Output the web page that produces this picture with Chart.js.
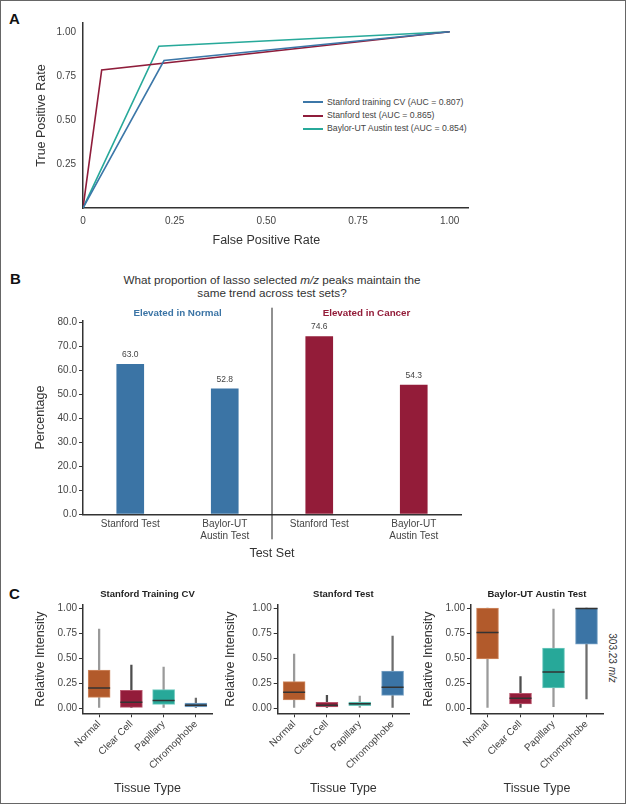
<!DOCTYPE html>
<html>
<head>
<meta charset="utf-8">
<script src="https://cdn.jsdelivr.net/npm/chart.js@4.4.1/dist/chart.umd.min.js"></script>
<style>
  body { margin: 0; background: #fff; }
  #fig { position: relative; width: 627px; height: 806px; overflow: hidden; background: #fff;
         font-family: "Liberation Sans", Arial, sans-serif; color: #333; }
  #frame { position: absolute; left: 0; top: 0; width: 624px; height: 802px; border: 1.5px solid #666; }
  canvas { position: absolute; }
  .letter { position: absolute; font-weight: bold; font-size: 15px; line-height: 1; color: #111; }
  #titleB { position: absolute; left: 62px; top: 273px; width: 420px; text-align: center;
            font-size: 11.7px; line-height: 13.3px; color: #333; }
  #legendA { position: absolute; left: 303px; top: 95.5px; font-size: 8.7px; color: #444; }
  #legendA div { height: 13.3px; line-height: 13.3px; white-space: nowrap; }
  #legendA span.sw { display: inline-block; width: 20px; height: 2px; vertical-align: middle; margin-right: 4px; }
  #mz { position: absolute; left: 611.5px; top: 658px; font-size: 10px; color: #333; white-space: nowrap;
        transform: translate(-50%, -50%) rotate(90deg); }
</style>
</head>
<body>
<div id="fig">
  <div id="frame"></div>
  <div class="letter" style="left:9px;top:10.5px">A</div>
  <div class="letter" style="left:10px;top:271px">B</div>
  <div class="letter" style="left:9px;top:586px">C</div>
  <div id="titleB">What proportion of lasso selected <i>m/z</i> peaks maintain the<br>same trend across test sets?</div>
  <div id="legendA"></div>
  <div id="mz">303.23 <i>m/z</i></div>
</div>
<script>
// ---- Panel A: ROC curves ----
const rocNames = ['Stanford training CV (AUC = 0.807)', 'Stanford test (AUC = 0.865)', 'Baylor-UT Austin test (AUC = 0.854)'];
const rocColors = ['#3c77a8', '#8f1d3b', '#27a99a'];
const trainFpr = [0, 0.221, 1];
const trainTpr = [0, 0.837, 1];
const stanFpr = [0, 0.051, 1];
const stanTpr = [0, 0.784, 1];
const baylorFpr = [0, 0.207, 1];
const baylorTpr = [0, 0.918, 1];
const rateTicksX = [0, 0.25, 0.5, 0.75, 1];
const rateTicksY = [0.25, 0.5, 0.75, 1];

// ---- Panel B: proportion of peaks keeping trend ----
const testSets = [['Stanford Test'], ['Baylor-UT', 'Austin Test'], ['Stanford Test'], ['Baylor-UT', 'Austin Test']];
const keptPct = [63.0, 52.8, 74.6, 54.3];
const barColors = ['#3b74a5', '#3b74a5', '#931c39', '#931c39'];
const groupNames = ['Elevated in Normal', 'Elevated in Cancer'];
const groupColors = ['#3b74a5', '#931c39'];
const pctTicks = [0, 10, 20, 30, 40, 50, 60, 70, 80];

// ---- Panel C: box plots of 303.23 m/z ----
const tissueTypes = ['Normal', 'Clear Cell', 'Papillary', 'Chromophobe'];
const boxColors = ['#b25a2b', '#931c3a', '#27a899', '#3b74a5'];
const boxEdges = ['#d08a62', '#b9566d', '#6fcabf', '#7aa3c6'];
const whiskerColors = ['#9a9a9a', '#4d4d4d', '#9a9a9a', '#6d6d6d'];
const intensityTicks = [0, 0.25, 0.5, 0.75, 1];

const trainMin = [0, 0, 0, 0];
const trainQ1 = [0.107, 0.007, 0.037, 0.01];
const trainMed = [0.20, 0.057, 0.074, 0.027];
const trainQ3 = [0.38, 0.177, 0.184, 0.05];
const trainMax = [0.79, 0.43, 0.41, 0.10];

const stanMin = [0, 0, 0, 0];
const stanQ1 = [0.08, 0.01, 0.023, 0.127];
const stanMed = [0.157, 0.027, 0.043, 0.207];
const stanQ3 = [0.264, 0.057, 0.06, 0.37];
const stanMax = [0.54, 0.127, 0.12, 0.72];

const baylorMin = [0, 0, 0.013, 0.09];
const baylorQ1 = [0.49, 0.04, 0.20, 0.639];
const baylorMed = [0.756, 0.097, 0.36, 0.995];
const baylorQ3 = [1.0, 0.147, 0.60, 1.0];
const baylorMax = [1.0, 0.314, 0.99, 1.0];

Chart.defaults.font.family = '"Liberation Sans", Arial, sans-serif';
Chart.defaults.color = '#444';
Chart.defaults.animation = false;
Chart.defaults.responsive = false;
Chart.defaults.events = [];
Chart.defaults.plugins.legend.display = false;
Chart.defaults.plugins.tooltip.enabled = false;

const fig = document.getElementById('fig');
function makeCanvas(left, top, w, h) {
  const c = document.createElement('canvas');
  c.width = w; c.height = h;
  c.style.left = left + 'px'; c.style.top = top + 'px';
  c.style.width = w + 'px'; c.style.height = h + 'px';
  fig.appendChild(c);
  return c;
}
const axisBorder = { color: '#333', width: 1.5 };
const titleFont = { size: 12.5 };
const setTicks = vals => s => { s.ticks = vals.map(v => ({ value: v })); };

// legend for panel A
const legendA = document.getElementById('legendA');
rocNames.forEach((name, i) => {
  const row = document.createElement('div');
  row.innerHTML = '<span class="sw" style="background:' + rocColors[i] + '"></span>' + name;
  legendA.appendChild(row);
});

// x title of panel A is centred on the 0..1 range, not on the whole axis
const rateTitle = {
  id: 'rateTitle',
  afterDraw(chart) {
    const { ctx, chartArea } = chart;
    const x = chart.scales.x;
    ctx.save();
    ctx.font = '12.5px "Liberation Sans", Arial, sans-serif';
    ctx.fillStyle = '#333';
    ctx.textAlign = 'center';
    ctx.textBaseline = 'middle';
    ctx.fillText('False Positive Rate', (x.getPixelForValue(0) + x.getPixelForValue(1)) / 2, chartArea.bottom + 32.5);
    ctx.restore();
  }
};

// Panel A
const rocFpr = [trainFpr, stanFpr, baylorFpr];
const rocTpr = [trainTpr, stanTpr, baylorTpr];
new Chart(makeCanvas(0, 0, 627, 252), {
  type: 'line',
  data: {
    datasets: rocNames.map((name, i) => ({
      label: name,
      data: rocFpr[i].map((x, j) => ({ x: x, y: rocTpr[i][j] })),
      borderColor: rocColors[i],
      borderWidth: 1.6,
      pointRadius: 0,
      tension: 0
    }))
  },
  options: {
    layout: { autoPadding: false, padding: { left: 30.5, right: 159, top: 23, bottom: 0 } },
    scales: {
      x: {
        type: 'linear', min: 0, max: 1.05,
        afterBuildTicks: setTicks(rateTicksX),
        afterFit: s => { s.height = 44; },
        grid: { display: false, drawTicks: false },
        border: axisBorder,
        ticks: { padding: 7, font: { size: 10 }, callback: v => v === 0 ? '0' : v.toFixed(2) }
      },
      y: {
        type: 'linear', min: 0, max: 1.05,
        afterBuildTicks: setTicks(rateTicksY),
        afterFit: s => { s.width = 52.5; },
        grid: { display: false, drawTicks: false },
        border: axisBorder,
        ticks: { padding: 7, font: { size: 10 }, callback: v => v.toFixed(2) },
        title: { display: true, text: 'True Positive Rate', font: titleFont, color: '#333' }
      }
    }
  },
  plugins: [rateTitle]
});

// Panel B
const groupPlugin = {
  id: 'groups',
  afterDraw(chart) {
    const { ctx, chartArea } = chart;
    const x = chart.scales.x;
    const mid = (x.getPixelForValue(1) + x.getPixelForValue(2)) / 2;
    ctx.save();
    ctx.strokeStyle = '#222';
    ctx.lineWidth = 1;
    ctx.beginPath();
    ctx.moveTo(mid, chartArea.top - 13);
    ctx.lineTo(mid, chartArea.bottom + 25);
    ctx.stroke();
    ctx.font = 'bold 9.8px "Liberation Sans", Arial, sans-serif';
    ctx.textAlign = 'center';
    ctx.textBaseline = 'middle';
    groupNames.forEach((g, i) => {
      const cx = (x.getPixelForValue(i * 2) + x.getPixelForValue(i * 2 + 1)) / 2;
      ctx.fillStyle = groupColors[i];
      ctx.fillText(g, cx, chartArea.top - 7.5);
    });
    // value labels
    ctx.font = '8.5px "Liberation Sans", Arial, sans-serif';
    ctx.fillStyle = '#444';
    const meta = chart.getDatasetMeta(0);
    meta.data.forEach((bar, i) => {
      ctx.fillText(keptPct[i].toFixed(1), bar.x, bar.y - 8.6);
    });
    ctx.restore();
  }
};
new Chart(makeCanvas(0, 300, 627, 265), {
  type: 'bar',
  data: {
    labels: testSets,
    datasets: [{
      data: keptPct,
      backgroundColor: barColors,
      borderColor: 'rgba(255,255,255,0.55)',
      borderWidth: 1,
      barThickness: 29
    }]
  },
  options: {
    layout: { padding: { left: 29, right: 166, top: 20.7, bottom: 0 } },
    scales: {
      x: {
        grid: { display: false, drawTicks: false },
        border: axisBorder,
        ticks: { padding: 4, font: { size: 10 }, color: '#444', maxRotation: 0 },
        title: { display: true, text: 'Test Set', font: titleFont, color: '#333' },
        afterFit: s => { s.height = 50.7; }
      },
      y: {
        min: 0, max: 80.8,
        afterBuildTicks: setTicks(pctTicks),
        afterFit: s => { s.width = 54; },
        grid: { drawOnChartArea: false, tickLength: 4, color: '#333' },
        border: axisBorder,
        ticks: { padding: 2, font: { size: 10 }, callback: v => v.toFixed(1) },
        title: { display: true, text: 'Percentage', font: titleFont, color: '#333' }
      }
    }
  },
  plugins: [groupPlugin]
});

// Panel C
const panelTitle = {
  id: 'panelTitle',
  afterDraw(chart, args, opts) {
    const { ctx, chartArea } = chart;
    ctx.save();
    ctx.font = 'bold 9.5px "Liberation Sans", Arial, sans-serif';
    ctx.fillStyle = '#222';
    ctx.textAlign = 'center';
    ctx.textBaseline = 'middle';
    ctx.fillText(opts.text, (chartArea.left + chartArea.right) / 2, chartArea.top - 10.5);
    ctx.restore();
  }
};

function boxChart(left, width, padL, axisW, title, mins, q1s, meds, q3s, maxs) {
  new Chart(makeCanvas(left, 580, width, 220), {
    type: 'bar',
    data: {
      labels: tissueTypes,
      datasets: [
        {
          type: 'line', data: meds, showLine: false,
          pointStyle: 'line', pointRadius: 11,
          pointBorderColor: '#333', pointBorderWidth: 1.5, borderColor: '#333',
          order: 0
        },
        {
          data: q1s.map((q, i) => [q, q3s[i]]),
          backgroundColor: boxColors, borderColor: boxEdges, borderWidth: 1, borderSkipped: false,
          barThickness: 22, grouped: false, order: 1
        },
        {
          data: mins.map((m, i) => [m, maxs[i]]),
          backgroundColor: whiskerColors, borderWidth: 0,
          barThickness: 1.6, grouped: false, order: 2
        }
      ]
    },
    options: {
      layout: { autoPadding: false, padding: { left: padL, right: 3, top: 25, bottom: 0 } },
      plugins: { panelTitle: { text: title } },
      scales: {
        x: {
          grid: { display: true, drawOnChartArea: false, offset: false, tickLength: 4, color: '#333' },
          border: axisBorder,
          ticks: { minRotation: 45, maxRotation: 45, padding: 1, font: { size: 10 }, color: '#444' },
          title: { display: true, text: 'Tissue Type', font: titleFont, color: '#333' },
          afterFit: s => { s.height = 86.7; s.paddingLeft = 0; s.paddingRight = 0; }
        },
        y: {
          min: -0.053, max: 1.03,
          afterBuildTicks: setTicks(intensityTicks),
          afterFit: s => { s.width = axisW; },
          grid: { drawOnChartArea: false, tickLength: 4, color: '#333' },
          border: axisBorder,
          ticks: { padding: 2, font: { size: 10 }, callback: v => v.toFixed(2) },
          title: { display: true, text: 'Relative Intensity', font: titleFont, color: '#333' }
        }
      }
    },
    plugins: [panelTitle]
  });
}

boxChart(0, 215, 29, 54, 'Stanford Training CV', trainMin, trainQ1, trainMed, trainQ3, trainMax);
boxChart(190, 222, 28.8, 58.9, 'Stanford Test', stanMin, stanQ1, stanMed, stanQ3, stanMax);
boxChart(385, 221, 32, 54, 'Baylor-UT Austin Test', baylorMin, baylorQ1, baylorMed, baylorQ3, baylorMax);
</script>
</body>
</html>
